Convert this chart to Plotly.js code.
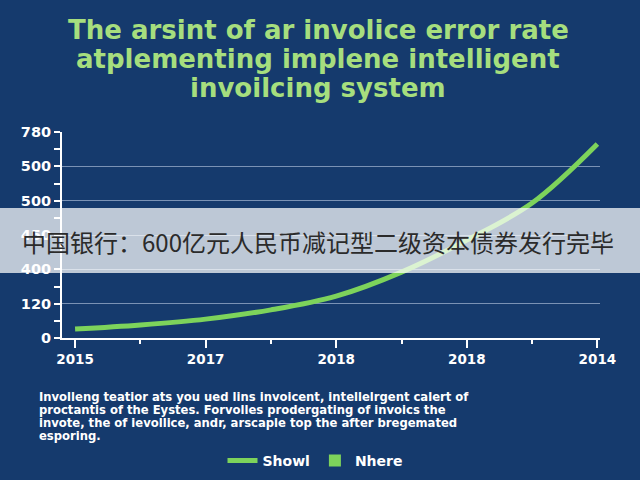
<!DOCTYPE html>
<html>
<head>
<meta charset="utf-8">
<script src="https://cdn.plot.ly/plotly-3.0.1.min.js"></script>
<style>
html,body{margin:0;padding:0;background:#153a6d;}
#chart{width:640px;height:480px;}
</style>
</head>
<body>
<div id="chart"></div>
<script>
// ---- data ----
const xPositions = [0, 0.5, 1, 1.5, 2, 2.5, 3, 3.5, 4];
const lineValues = [0.26, 0.38, 0.55, 0.82, 1.22, 1.92, 2.85, 3.93, 5.65];
const nhereX = [0];
const nhereValues = [0];
const xTickVals = [0, 1, 2, 3, 4];
const xTickText = ['2015', '2017', '2018', '2018', '2014'];
const yTickVals = [0, 1, 2, 3, 4, 5, 6];
const yTickText = ['0', '120', '400', '450', '500', '500', '780'];
const seriesNames = ['Showl', 'Nhere'];
const titleLines = [
  'The arsint of ar involice error rate',
  'atplementing implene intelligent',
  'invoilcing system'
];
const captionLines = [
  'Involleng teatior ats you ued lins invoicent, intellelrgent calert of',
  'proctantis of the Eystes. Forvolles prodergating of invoics the',
  'invote, the of ievollice, andr, arscaple top the after bregemated',
  'esporing.'
];
const bannerText = '中国银行：600亿元人民币减记型二级资本债券发行完毕';

// ---- layout helpers (pixel -> paper) ----
const W = 640, H = 480, L = 62, R = 40, T = 132, B = 142;
const PW = W - L - R, PH = H - T - B;
const px = v => (v - L) / PW;
const py = v => (H - B - v) / PH;

const green = '#7dd35b';
const bg = '#153a6d';

const traces = [
  {
    type: 'scatter', mode: 'lines', name: seriesNames[0],
    x: xPositions, y: lineValues,
    line: {color: green, width: 5, shape: 'spline', smoothing: 1},
    hoverinfo: 'skip'
  },
  {
    type: 'bar', name: seriesNames[1], x: nhereX, y: nhereValues,
    marker: {color: green, line: {width: 0}}, showlegend: true, hoverinfo: 'skip'
  }
];

const titleAnn = titleLines.map((t, i) => ({
  text: t, xref: 'paper', yref: 'paper',
  x: px(318), y: py(30 + i * 29), xanchor: 'center', yanchor: 'middle',
  showarrow: false,
  font: {family: 'DejaVu Sans', size: 26, color: '#a6de7e', weight: 'bold'}
}));

const captionAnn = captionLines.map((t, i) => ({
  text: t, xref: 'paper', yref: 'paper',
  x: px(37), y: py(397 + i * 13), xanchor: 'left', yanchor: 'middle',
  showarrow: false,
  font: {family: 'DejaVu Sans', size: 11.6, color: '#ffffff', weight: 'bold'}
}));

const layout = {
  width: W, height: H,
  paper_bgcolor: bg, plot_bgcolor: bg,
  margin: {l: L, r: R, t: T, b: B, autoexpand: false},
  xaxis: {
    range: [-0.1, 4.02], tickmode: 'array', tickvals: xTickVals, ticktext: xTickText,
    showgrid: false, zeroline: false,
    showline: true, linecolor: '#ffffff', linewidth: 2,
    ticks: 'outside', ticklen: 8, tickwidth: 2, tickcolor: '#ffffff',
    ticklabelstandoff: 0,
    tickfont: {family: 'DejaVu Sans', size: 13.5, color: '#ffffff', weight: 'bold'},
    minor: {tickmode: 'linear', tick0: 0, dtick: 0.5, ticks: 'outside', ticklen: 4, tickwidth: 2, tickcolor: '#ffffff', showgrid: false},
    fixedrange: true
  },
  yaxis: {
    range: [0, 6], tickmode: 'array', tickvals: yTickVals, ticktext: yTickText,
    showgrid: true, gridcolor: 'rgba(190,205,230,0.6)', gridwidth: 1,
    zeroline: false,
    showline: true, linecolor: '#ffffff', linewidth: 2,
    ticks: 'outside', ticklen: 6, tickwidth: 2, tickcolor: '#ffffff',
    tickfont: {family: 'DejaVu Sans', size: 14.5, color: '#ffffff', weight: 'bold'},
    minor: {tickmode: 'linear', tick0: 0, dtick: 0.5, ticks: 'outside', ticklen: 6, tickwidth: 2, tickcolor: '#ffffff', showgrid: false},
    fixedrange: true
  },
  showlegend: true,
  legend: {
    orientation: 'h', x: px(315), xanchor: 'center', y: py(461), yanchor: 'middle',
    font: {family: 'DejaVu Sans', size: 14, color: '#ffffff', weight: 'bold'},
    bgcolor: 'rgba(0,0,0,0)', traceorder: 'normal'
  },
  shapes: [
    {
      type: 'rect', xref: 'paper', yref: 'paper', layer: 'above',
      x0: px(0), x1: px(640), y0: py(273), y1: py(208),
      fillcolor: 'rgba(255,255,255,0.72)', line: {width: 0}
    }
  ],
  annotations: titleAnn.concat(captionAnn, [
    {
      text: bannerText, xref: 'paper', yref: 'paper',
      x: px(20), y: py(241), xanchor: 'left', yanchor: 'middle', showarrow: false,
      font: {family: 'Noto Sans CJK SC', size: 24, color: '#2b2b2b'}
    }
  ])
};

Plotly.newPlot('chart', traces, layout, {displayModeBar: false, staticPlot: true});
</script>
</body>
</html>
